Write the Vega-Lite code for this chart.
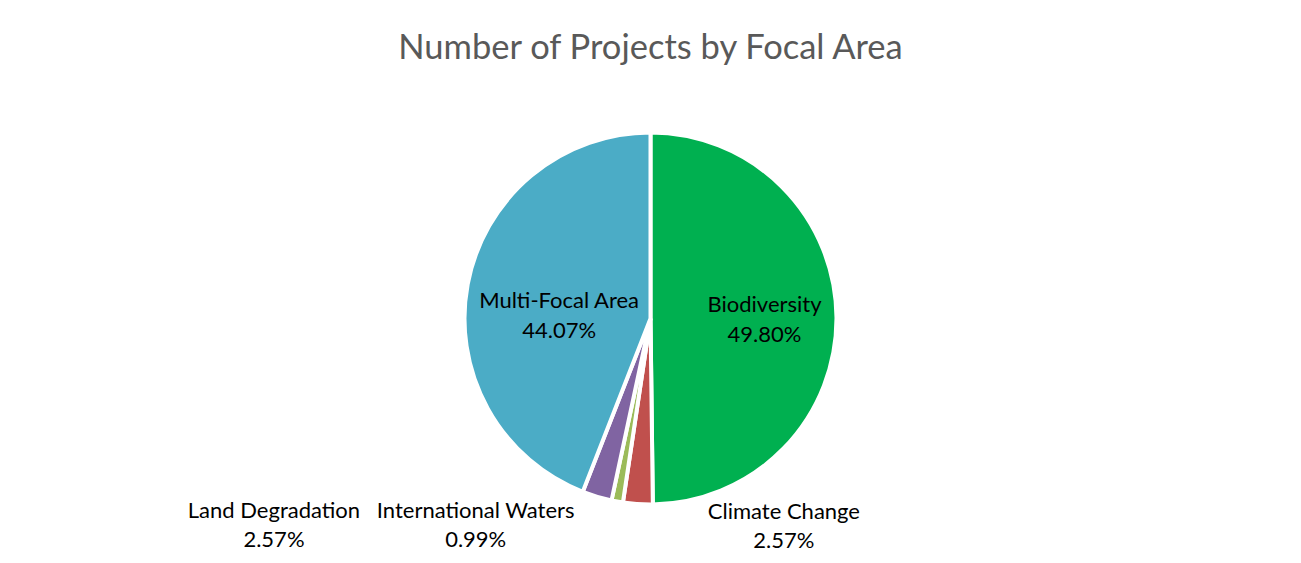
{
  "$schema": "https://vega.github.io/schema/vega-lite/v6.json",
  "width": 1301,
  "height": 563,
  "autosize": {"type": "fit", "contains": "padding"},
  "padding": {"top": 31, "bottom": 0, "left": 0, "right": 0},
  "background": "white",
  "title": {
    "text": "Number of Projects by Focal Area",
    "font": "Lato",
    "fontSize": 34.5,
    "fontWeight": "normal",
    "color": "#595959",
    "anchor": "middle",
    "offset": 7.5
  },
  "config": {"view": {"stroke": null}},
  "data": {
    "values": [
      {"category": "Biodiversity", "share": 49.80, "pct": "49.80%"},
      {"category": "Climate Change", "share": 2.57, "pct": "2.57%"},
      {"category": "International Waters", "share": 0.99, "pct": "0.99%"},
      {"category": "Land Degradation", "share": 2.57, "pct": "2.57%"},
      {"category": "Multi-Focal Area", "share": 44.07, "pct": "44.07%"}
    ]
  },
  "transform": [
    {"stack": "share", "groupby": [], "sort": [{"field": "category", "order": "ascending"}], "as": ["t0", "t1"]},
    {"calculate": "(datum.t0 + datum.t1) / 2", "as": "tmid"}
  ],
  "layer": [
    {
      "mark": {"type": "arc", "outerRadius": 186, "stroke": "white", "strokeWidth": 4},
      "encoding": {
        "theta": {"field": "t0", "type": "quantitative", "scale": {"domain": [0, 100]}},
        "theta2": {"field": "t1"},
        "color": {
          "field": "category",
          "type": "nominal",
          "scale": {
            "domain": ["Biodiversity", "Climate Change", "International Waters", "Land Degradation", "Multi-Focal Area"],
            "range": ["#00B050", "#C0504D", "#9BBB59", "#8064A2", "#4BACC6"]
          },
          "legend": null
        }
      }
    },
    {
      "transform": [{"filter": "datum.category == 'Biodiversity'"}],
      "mark": {"type": "text", "radius": 114, "dy": -13, "font": "Lato", "fontSize": 22, "color": "#000000", "baseline": "middle"},
      "encoding": {"theta": {"field": "tmid", "type": "quantitative"}, "text": {"field": "category"}}
    },
    {
      "transform": [{"filter": "datum.category == 'Biodiversity'"}],
      "mark": {"type": "text", "radius": 114, "dy": 17, "font": "Lato", "fontSize": 22, "color": "#000000", "baseline": "middle"},
      "encoding": {"theta": {"field": "tmid", "type": "quantitative"}, "text": {"field": "pct"}}
    },
    {
      "transform": [{"filter": "datum.category == 'Multi-Focal Area'"}],
      "mark": {"type": "text", "radius": 93, "dy": 0, "font": "Lato", "fontSize": 22, "color": "#000000", "baseline": "middle"},
      "encoding": {"theta": {"field": "tmid", "type": "quantitative"}, "text": {"field": "category"}}
    },
    {
      "transform": [{"filter": "datum.category == 'Multi-Focal Area'"}],
      "mark": {"type": "text", "radius": 93, "dy": 30, "font": "Lato", "fontSize": 22, "color": "#000000", "baseline": "middle"},
      "encoding": {"theta": {"field": "tmid", "type": "quantitative"}, "text": {"field": "pct"}}
    },
    {
      "transform": [{"filter": "datum.category == 'Climate Change'"}],
      "mark": {"type": "text", "radius": 200, "dx": 147, "dy": -6, "font": "Lato", "fontSize": 22, "color": "#000000", "baseline": "middle"},
      "encoding": {"theta": {"field": "tmid", "type": "quantitative"}, "text": {"field": "category"}}
    },
    {
      "transform": [{"filter": "datum.category == 'Climate Change'"}],
      "mark": {"type": "text", "radius": 200, "dx": 147, "dy": 23, "font": "Lato", "fontSize": 22, "color": "#000000", "baseline": "middle"},
      "encoding": {"theta": {"field": "tmid", "type": "quantitative"}, "text": {"field": "pct"}}
    },
    {
      "transform": [{"filter": "datum.category == 'International Waters'"}],
      "mark": {"type": "text", "radius": 200, "dx": -139, "dy": -4, "font": "Lato", "fontSize": 22, "color": "#000000", "baseline": "middle"},
      "encoding": {"theta": {"field": "tmid", "type": "quantitative"}, "text": {"field": "category"}}
    },
    {
      "transform": [{"filter": "datum.category == 'International Waters'"}],
      "mark": {"type": "text", "radius": 200, "dx": -139, "dy": 25, "font": "Lato", "fontSize": 22, "color": "#000000", "baseline": "middle"},
      "encoding": {"theta": {"field": "tmid", "type": "quantitative"}, "text": {"field": "pct"}}
    },
    {
      "transform": [{"filter": "datum.category == 'Land Degradation'"}],
      "mark": {"type": "text", "radius": 200, "dx": -319, "dy": 1, "font": "Lato", "fontSize": 22, "color": "#000000", "baseline": "middle"},
      "encoding": {"theta": {"field": "tmid", "type": "quantitative"}, "text": {"field": "category"}}
    },
    {
      "transform": [{"filter": "datum.category == 'Land Degradation'"}],
      "mark": {"type": "text", "radius": 200, "dx": -319, "dy": 30, "font": "Lato", "fontSize": 22, "color": "#000000", "baseline": "middle"},
      "encoding": {"theta": {"field": "tmid", "type": "quantitative"}, "text": {"field": "pct"}}
    }
  ]
}
